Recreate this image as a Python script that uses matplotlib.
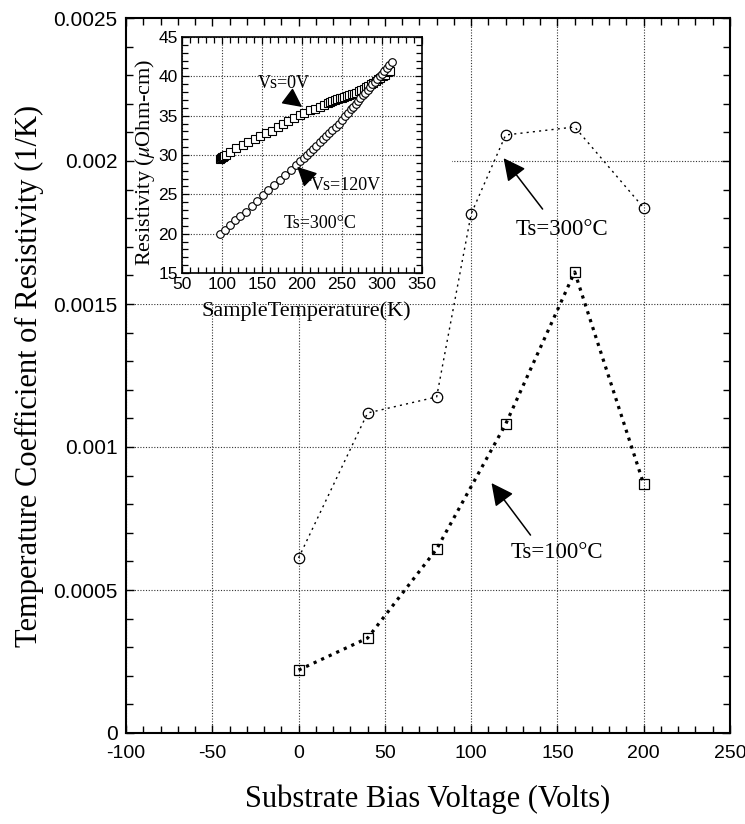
import matplotlib
matplotlib.use("Agg")
import matplotlib.pyplot as plt
from matplotlib.patches import Rectangle
from matplotlib.ticker import MultipleLocator

plt.rcParams['mathtext.fontset'] = 'stix'
plt.rcParams['axes.unicode_minus'] = False

# main data: TCR vs substrate bias
bias = [0, 40, 80, 100, 120, 160, 200]
tcr_300 = [0.000612, 0.001119, 0.001175, 0.001815, 0.002091, 0.002119, 0.001836]
bias_100 = [0, 40, 80, 120, 160, 200]
tcr_100 = [0.00022, 0.000332, 0.000643, 0.00108, 0.001612, 0.00087]

# inset data: resistivity vs sample temperature (Ts=300C)
temp_0v = [97, 98.5, 100, 101.5, 103, 105, 110, 118, 126, 133, 141, 148, 155, 162, 170,
           176, 183, 190, 197, 203, 210, 216, 222, 228, 232, 235, 238, 241, 244, 247,
           250, 253, 256, 259, 262, 265, 268, 271, 274, 277, 280, 283, 286, 289, 292,
           295, 298, 301, 304, 307, 310]
res_0v = [29.5, 29.6, 29.7, 29.8, 29.9, 30.0, 30.4, 30.9, 31.3, 31.7, 32.0, 32.4, 32.8,
          33.1, 33.5, 33.9, 34.3, 34.7, 35.1, 35.4, 35.7, 35.9, 36.1, 36.4, 36.6, 36.8,
          36.9, 37.0, 37.1, 37.2, 37.3, 37.4, 37.5, 37.6, 37.7, 37.8, 37.9, 38.1, 38.2,
          38.4, 38.6, 38.8, 39.0, 39.2, 39.4, 39.6, 39.8, 40.0, 40.2, 40.5, 40.7]
temp_120v = [98, 104, 110, 116, 123, 130, 137, 144, 151, 158, 165, 172, 179, 186, 192,
             197, 202, 206, 210, 214, 218, 222, 226, 230, 234, 238, 242, 246, 250, 254,
             258, 261, 264, 267, 270, 273, 276, 279, 282, 285, 288, 291, 294, 297, 300,
             303, 306, 309, 312]
res_120v = [20.0, 20.5, 21.1, 21.7, 22.2, 22.8, 23.5, 24.2, 24.9, 25.5, 26.2, 26.8, 27.4,
            28.1, 28.7, 29.2, 29.6, 30.0, 30.4, 30.8, 31.2, 31.6, 32.0, 32.4, 32.8, 33.2,
            33.6, 34.0, 34.4, 34.9, 35.4, 35.8, 36.1, 36.5, 36.9, 37.2, 37.6, 37.9, 38.3,
            38.6, 39.0, 39.3, 39.6, 40.0, 40.3, 40.7, 41.0, 41.4, 41.8]

W, H = 745, 824
fig = plt.figure(figsize=(W / 100, H / 100), dpi=100)
main_pos = [126 / W, 1 - 733 / H, (730 - 126) / W, (733 - 18) / H]

grid_kw = dict(color='#333333', linestyle=(0, (1, 1.5)), linewidth=0.8)

# back layer: grid only
gax = fig.add_axes(main_pos, zorder=0)
gax.set_xlim(-100, 250)
gax.set_ylim(0, 0.0025)
gax.xaxis.set_major_locator(MultipleLocator(50))
gax.yaxis.set_major_locator(MultipleLocator(0.0005))
gax.grid(True, **grid_kw)
gax.tick_params(length=0, labelleft=False, labelbottom=False)
for s in gax.spines.values():
    s.set_visible(False)

# white area behind the inset hides the grid there
fig.add_artist(Rectangle((-100, 0.0015), 189, 0.001, transform=gax.transData,
                         facecolor='white', edgecolor='none', zorder=0.5))

# main layer
ax = fig.add_axes(main_pos, zorder=1)
ax.patch.set_visible(False)
ax.set_xlim(-100, 250)
ax.set_ylim(0, 0.0025)
ax.xaxis.set_major_locator(MultipleLocator(50))
ax.xaxis.set_minor_locator(MultipleLocator(10))
ax.yaxis.set_major_locator(MultipleLocator(0.0005))
ax.yaxis.set_minor_locator(MultipleLocator(0.0001))
ax.yaxis.set_major_formatter(plt.FuncFormatter(lambda v, p: '0' if v == 0 else ('%g' % v)))
ax.tick_params(which='both', direction='in', top=True, right=True, width=1)
ax.tick_params(which='major', length=6)
ax.tick_params(which='minor', length=5)
ax.tick_params(axis='x', pad=9)
ax.tick_params(axis='y', pad=6)
for lab in ax.get_xticklabels():
    lab.set_fontfamily('Liberation Sans')
    lab.set_fontsize(14)
for lab in ax.get_yticklabels():
    lab.set_fontfamily('Liberation Sans')
    lab.set_fontsize(15)
for s in ax.spines.values():
    s.set_linewidth(1.5)

ax.plot(bias, tcr_300, color='black', lw=1, linestyle=(0, (1.5, 3)),
        marker='o', ms=7.5, mfc='none', mec='black', mew=0.9)
ax.plot(bias_100, tcr_100, color='black', lw=2.3, linestyle=(0, (1, 1.6)),
        marker='s', ms=7.5, mfc='none', mec='black', mew=0.9)

serif = 'Liberation Serif'
ax.set_xlabel('Substrate Bias Voltage (Volts)', fontsize=22, family=serif)
ax.set_ylabel('Temperature Coefficient of Resistivity (1/K)', fontsize=22, family=serif)
ax.xaxis.set_label_coords(0.5, -0.072)
ax.yaxis.set_label_coords(-0.135, 0.5)

arrow_kw = dict(arrowstyle='-|>', mutation_scale=34, lw=1.1, color='black',
                shrinkA=0, shrinkB=0)
ax.annotate('', xy=(118.8, 0.00201), xytext=(141.4, 0.001832), arrowprops=arrow_kw)
ax.annotate('', xy=(111.8, 0.000874), xytext=(134.4, 0.000692), arrowprops=arrow_kw)
ax.text(152.4, 0.00176, 'Ts=300°C', fontsize=16.5, family=serif, ha='center', va='center')
ax.text(149.5, 0.00063, 'Ts=100°C', fontsize=16.5, family=serif, ha='center', va='center')

# inset
ins = fig.add_axes([182 / W, 1 - 273 / H, (422 - 182) / W, (273 - 37) / H], zorder=2)
ins.set_xlim(50, 350)
ins.set_ylim(15, 45)
ins.xaxis.set_major_locator(MultipleLocator(50))
ins.xaxis.set_minor_locator(MultipleLocator(10))
ins.yaxis.set_major_locator(MultipleLocator(5))
ins.yaxis.set_minor_locator(MultipleLocator(1))
ins.grid(True, which='major', **grid_kw)
ins.set_axisbelow(True)
ins.tick_params(which='both', direction='in', top=True, right=True, width=0.9)
ins.tick_params(which='major', length=5, pad=3)
ins.tick_params(which='minor', length=4)
for lab in ins.get_xticklabels() + ins.get_yticklabels():
    lab.set_fontfamily('Liberation Sans')
    lab.set_fontsize(12.5)
for s in ins.spines.values():
    s.set_linewidth(1.2)

ins.plot(temp_0v, res_0v, linestyle='none', marker='s', ms=5.5, mfc='white',
         mec='black', mew=0.8)
ins.plot(temp_120v, res_120v, linestyle='none', marker='o', ms=5.5, mfc='white',
         mec='black', mew=0.8)

ins.set_xlabel('SampleTemperature(K)', fontsize=16, family=serif)
ins.set_ylabel(r'Resistivity ($\mu$Ohm-cm)', fontsize=16, family=serif)
ins.xaxis.set_label_coords(0.52, -0.12)
ins.yaxis.set_label_coords(-0.105, 0.47)

small_arrow = dict(arrowstyle='-|>', mutation_scale=30, lw=1, color='black',
                   shrinkA=0, shrinkB=0)
ins.annotate('', xy=(200.2, 36.1), xytext=(183, 37.4), arrowprops=small_arrow)
ins.annotate('', xy=(193.9, 28.5), xytext=(211, 26.8), arrowprops=small_arrow)
ins.text(177, 39.1, 'Vs=0V', fontsize=13, family=serif, ha='center', va='center')
ins.text(254.5, 26.1, 'Vs=120V', fontsize=13, family=serif, ha='center', va='center')
ins.text(223, 21.3, 'Ts=300°C', fontsize=13, family=serif, ha='center', va='center')

fig.savefig('out.png', dpi=100)
